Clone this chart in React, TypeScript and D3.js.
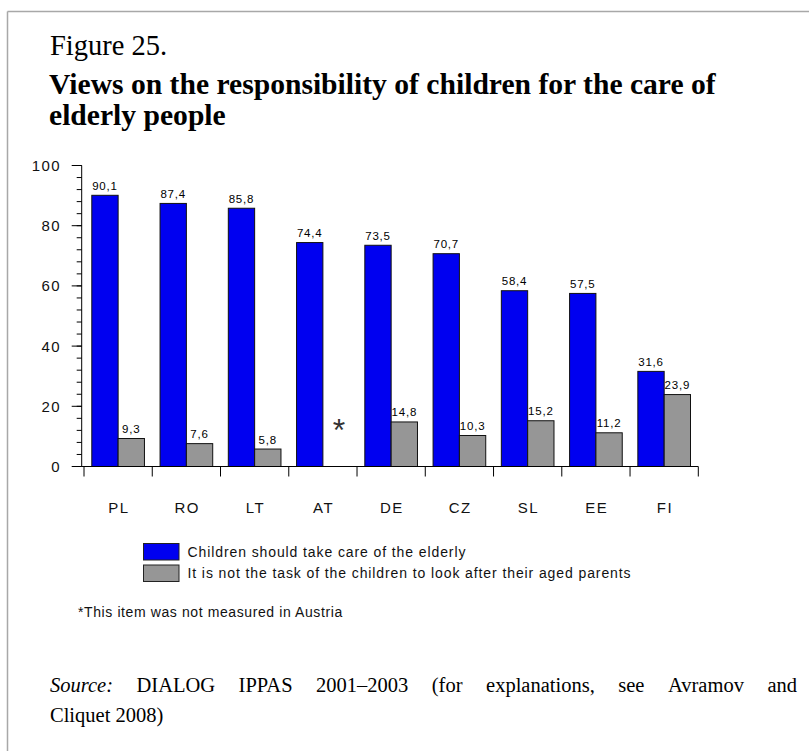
import React, { useMemo } from 'react';
import * as d3 from 'd3';

const countries = ['PL', 'RO', 'LT', 'AT', 'DE', 'CZ', 'SL', 'EE', 'FI'];
const shouldCare = [90.1, 87.4, 85.8, 74.4, 73.5, 70.7, 58.4, 57.5, 31.6];
const notTask: (number | null)[] = [9.3, 7.6, 5.8, null, 14.8, 10.3, 15.2, 11.2, 23.9];
const seriesNames = [
  'Children should take care of the elderly',
  'It is not the task of the children to look after their aged parents',
];
const seriesKeys = ['care', 'notTask'];
const seriesColors = ['#0000f0', '#969696'];
const yTicks = [0, 20, 40, 60, 80, 100];
const yMinorTicks = d3.range(0, 101, 4);

const figureLabel = 'Figure 25.';
const titleLines = ['Views on the responsibility of children for the care of', 'elderly people'];
const footnote = '*This item was not measured in Austria';
const sourceLine1 = ['DIALOG', 'IPPAS', '2001–2003', '(for', 'explanations,', 'see', 'Avramov', 'and'];
const sourceLabel = 'Source:';
const sourceLine2 = 'Cliquet 2008)';

const W = 809;
const H = 751;
const serif = "'Liberation Serif', 'Times New Roman', serif";
const sans = "'Liberation Sans', Arial, sans-serif";

const fmt = (v: number) => v.toFixed(1).replace('.', ',');

function measure(text: string, font: string): number {
  if (typeof document === 'undefined') return text.length * 10;
  const c = document.createElement('canvas');
  const ctx = c.getContext('2d');
  if (!ctx) return text.length * 10;
  ctx.font = font;
  return ctx.measureText(text).width;
}

export default function App() {
  const y = d3.scaleLinear().domain([0, 100]).range([466.5, 165.5]);
  const x0 = d3.scaleBand<string>().domain(countries).range([84, 698.3]).paddingInner(0).paddingOuter(0);
  const step = x0.bandwidth();
  const x1 = d3.scaleBand<string>().domain(seriesKeys).range([7.8, step - 7.8]).padding(0);
  const bw = x1.bandwidth();
  const axisX = 81.7;

  const srcFontSize = 20.5;
  const src = useMemo(() => {
    const words = [
      { t: sourceLabel, italic: true },
      ...sourceLine1.map((t) => ({ t, italic: false })),
    ];
    const widths = words.map((w) =>
      measure(w.t, `${w.italic ? 'italic ' : ''}${srcFontSize}px 'Liberation Serif'`)
    );
    const total = widths.reduce((a, b) => a + b, 0);
    const left = 50;
    const right = 797;
    const gap = (right - left - total) / (words.length - 1);
    let cx = left;
    return words.map((w, i) => {
      const pos = cx;
      cx += widths[i] + gap;
      return { ...w, x: pos };
    });
  }, []);

  return (
    <svg
      width={W}
      height={H}
      style={{ position: 'absolute', left: 0, top: 0, background: '#fff' }}
      xmlns="http://www.w3.org/2000/svg"
    >
      <rect x={0} y={0} width={W} height={H} fill="#fff" />
      {/* frame */}
      <line x1={7.5} y1={11.5} x2={W} y2={11.5} stroke="#a8a8a8" strokeWidth={1.5} />
      <line x1={7.5} y1={11.5} x2={7.5} y2={H} stroke="#a8a8a8" strokeWidth={1.5} />

      {/* titles */}
      <text x={50} y={55} fontFamily={serif} fontSize={28.5} fill="#000">
        {figureLabel}
      </text>
      {titleLines.map((t, i) => (
        <text key={i} x={49} y={93.5 + i * 31.5} fontFamily={serif} fontWeight="bold" fontSize={29.6} fill="#000">
          {t}
        </text>
      ))}

      {/* y axis */}
      <g fontFamily={sans} fontSize={15} fill="#111">
        <line x1={axisX} y1={y(100)} x2={axisX} y2={y(0)} stroke="#000" strokeWidth={1} />
        {yMinorTicks.map((t) => (
          <line key={'m' + t} x1={axisX - 5} x2={axisX} y1={y(t)} y2={y(t)} stroke="#000" strokeWidth={1} />
        ))}
        {yTicks.map((t) => (
          <g key={t}>
            <line x1={axisX - 10} x2={axisX} y1={y(t)} y2={y(t)} stroke="#000" strokeWidth={1} />
            <text x={61} y={y(t) + 5.5} textAnchor="end" letterSpacing={1.4}>
              {t}
            </text>
          </g>
        ))}
      </g>

      {/* bars */}
      {countries.map((c, i) => {
        const gx = x0(c)!;
        const vals = [shouldCare[i], notTask[i]];
        return (
          <g key={c}>
            {vals.map((v, k) =>
              v == null ? null : (
                <rect
                  key={k}
                  x={gx + x1(seriesKeys[k])!}
                  y={y(v)}
                  width={bw}
                  height={y(0) - y(v)}
                  fill={seriesColors[k]}
                  stroke="#111"
                  strokeWidth={1}
                />
              )
            )}
          </g>
        );
      })}

      {/* x axis */}
      <line x1={axisX} x2={x0.range()[1]} y1={y(0)} y2={y(0)} stroke="#000" strokeWidth={1} />
      {[...countries.map((c) => x0(c)!), x0.range()[1]].map((bx, i) => (
        <line key={i} x1={bx} x2={bx} y1={y(0)} y2={y(0) + 10} stroke="#000" strokeWidth={1} />
      ))}

      {/* value labels */}
      <g fontFamily={sans} fontSize={11.5} fill="#000" textAnchor="middle" letterSpacing={0.8}>
        {countries.map((c, i) => {
          const gx = x0(c)!;
          const vals = [shouldCare[i], notTask[i]];
          return vals.map((v, k) =>
            v == null ? null : (
              <text key={c + k} x={gx + x1(seriesKeys[k])! + bw / 2} y={y(v) - 5.5}>
                {fmt(v)}
              </text>
            )
          );
        })}
        {countries.map((c, i) =>
          notTask[i] == null ? (
            <text
              key={'ast' + c}
              x={x0(c)! + x1(seriesKeys[1])! + bw / 2 + 3}
              y={y(0) - 26}
              fontSize={32}
              fill="#333"
              letterSpacing={0}
            >
              *
            </text>
          ) : null
        )}
      </g>

      {/* category labels */}
      <g fontFamily={sans} fontSize={15} fill="#111" textAnchor="middle" letterSpacing={1.5}>
        {countries.map((c) => (
          <text key={c} x={x0(c)! + step / 2 + 0.75} y={513}>
            {c}
          </text>
        ))}
      </g>

      {/* legend */}
      <g fontFamily={sans} fontSize={14} fill="#111" letterSpacing={0.9}>
        {seriesNames.map((n, i) => (
          <g key={n}>
            <rect
              x={143.5}
              y={543.5 + i * 21.5}
              width={35.5}
              height={16.5}
              fill={seriesColors[i]}
              stroke="#222"
              strokeWidth={1}
            />
            <text x={187.5} y={556.5 + i * 21}>
              {n}
            </text>
          </g>
        ))}
      </g>

      {/* footnote */}
      <text x={78} y={616.5} fontFamily={sans} fontSize={14} fill="#111" letterSpacing={0.6}>
        {footnote}
      </text>

      {/* source */}
      <g fontFamily={serif} fontSize={srcFontSize} fill="#000">
        {src.map((w, i) => (
          <text key={i} x={w.x} y={691.5} fontStyle={w.italic ? 'italic' : 'normal'}>
            {w.t}
          </text>
        ))}
        <text x={50} y={721.5}>
          {sourceLine2}
        </text>
      </g>
    </svg>
  );
}
